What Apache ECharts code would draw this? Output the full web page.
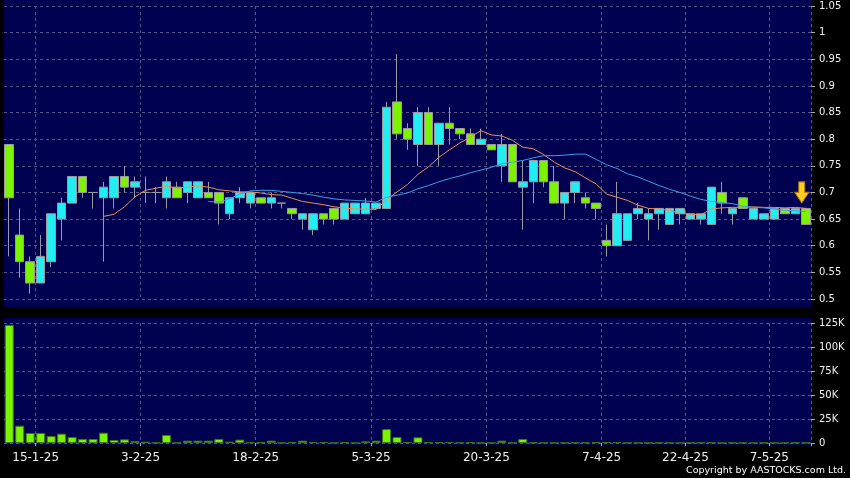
<!DOCTYPE html>
<html><head><meta charset="utf-8">
<script src="https://cdn.jsdelivr.net/npm/echarts@6/dist/echarts.min.js"></script>
<style>html,body{margin:0;padding:0;background:#000;}#c{width:850px;height:478px;}</style>
</head><body><div id="c"></div>
<script>
const dates = [
'10-1-25','13-1-25','14-1-25','15-1-25','16-1-25','17-1-25','20-1-25','21-1-25','22-1-25','23-1-25',
'24-1-25','27-1-25','28-1-25','3-2-25','4-2-25','5-2-25','6-2-25','7-2-25','10-2-25','11-2-25',
'12-2-25','13-2-25','14-2-25','17-2-25','18-2-25','19-2-25','20-2-25','21-2-25','24-2-25','25-2-25',
'26-2-25','27-2-25','28-2-25','3-3-25','4-3-25','5-3-25','6-3-25','7-3-25','10-3-25','11-3-25',
'12-3-25','13-3-25','14-3-25','17-3-25','18-3-25','19-3-25','20-3-25','21-3-25','24-3-25','25-3-25',
'26-3-25','27-3-25','28-3-25','31-3-25','1-4-25','2-4-25','3-4-25','7-4-25','8-4-25','9-4-25',
'10-4-25','11-4-25','14-4-25','15-4-25','16-4-25','22-4-25','23-4-25','24-4-25','25-4-25','28-4-25',
'29-4-25','30-4-25','2-5-25','7-5-25','8-5-25','9-5-25','12-5-25'];
const openP = [
0.79,0.62,0.57,0.53,0.57,0.65,0.68,0.73,0.70,0.69,
0.69,0.73,0.71,0.70,0.70,0.69,0.71,0.70,0.69,0.70,
0.70,0.66,0.69,0.68,0.69,0.68,0.68,0.67,0.65,0.63,
0.66,0.67,0.65,0.66,0.66,0.67,0.67,0.87,0.82,0.79,
0.85,0.79,0.83,0.82,0.81,0.79,0.79,0.75,0.79,0.71,
0.72,0.76,0.72,0.68,0.70,0.69,0.68,0.61,0.60,0.61,
0.66,0.65,0.66,0.64,0.66,0.65,0.65,0.64,0.70,0.66,
0.69,0.65,0.65,0.65,0.67,0.66,0.67];
const closeP = [
0.69,0.57,0.53,0.58,0.66,0.68,0.73,0.70,0.70,0.71,
0.73,0.71,0.72,0.70,0.70,0.72,0.69,0.72,0.72,0.69,
0.68,0.69,0.70,0.70,0.68,0.69,0.68,0.66,0.66,0.66,
0.65,0.65,0.68,0.68,0.68,0.68,0.86,0.81,0.80,0.85,
0.79,0.83,0.82,0.81,0.79,0.80,0.78,0.79,0.72,0.72,
0.76,0.72,0.68,0.70,0.72,0.68,0.67,0.60,0.66,0.66,
0.67,0.66,0.67,0.67,0.67,0.66,0.66,0.71,0.68,0.67,
0.67,0.67,0.66,0.67,0.66,0.67,0.64];
const lowP = [
0.58,0.54,0.51,0.53,0.56,0.61,0.68,0.69,0.67,0.57,
0.67,0.70,0.69,0.68,0.68,0.67,0.69,0.68,0.69,0.69,
0.64,0.65,0.68,0.67,0.68,0.67,0.67,0.65,0.63,0.62,
0.64,0.64,0.65,0.66,0.66,0.67,0.67,0.80,0.78,0.75,
0.79,0.75,0.79,0.80,0.79,0.79,0.78,0.72,0.72,0.63,
0.68,0.71,0.68,0.65,0.68,0.67,0.65,0.58,0.60,0.61,
0.65,0.61,0.63,0.64,0.64,0.65,0.64,0.64,0.66,0.64,
0.67,0.65,0.65,0.65,0.66,0.66,0.64];
const highP = [
0.79,0.67,0.58,0.62,0.66,0.69,0.73,0.73,0.70,0.72,
0.73,0.75,0.73,0.73,0.71,0.73,0.72,0.72,0.72,0.72,
0.70,0.69,0.71,0.70,0.69,0.70,0.68,0.67,0.66,0.66,
0.66,0.67,0.68,0.68,0.69,0.68,0.87,0.96,0.83,0.86,
0.86,0.83,0.86,0.82,0.82,0.82,0.79,0.81,0.79,0.76,
0.76,0.76,0.75,0.70,0.72,0.70,0.68,0.64,0.72,0.66,
0.68,0.67,0.67,0.67,0.67,0.66,0.66,0.71,0.72,0.67,
0.69,0.67,0.66,0.67,0.67,0.67,0.67];
const volumeK = [
123,18,10.4,10.4,7.3,9.7,6.2,4.2,4.2,10.7,
3.1,3.8,2.1,1.4,0.3,8.3,0.3,2.4,2.4,2.4,
4.2,1.4,3.5,0.7,0.7,2.4,0.2,1,2.4,1,
1,0.1,1,0.1,1.7,2.4,14.5,6.2,1,5.9,
1,1,1,0.3,1,0.2,0.2,2.4,0.3,4.2,
0.3,0.3,0.3,0.2,0.3,0.3,1,1,1,0.2,
0.3,0.2,0.3,0.2,0.2,0.2,0.3,0.5,0.2,0.3,
0.2,0.2,0.3,0.2,0.2,0.3,0.3];
// moving-average line values (orange from 10th bar, blue from 20th bar)
const ma10Start = 9;
const ma10Values = [
0.655,0.659,0.673,0.692,0.704,0.708,0.712,0.708,0.710,0.712,
0.710,0.705,0.703,0.701,0.701,0.699,0.696,0.695,0.689,0.683,
0.680,0.677,0.673,0.671,0.669,0.669,0.668,0.686,0.701,0.715,
0.734,0.748,0.766,0.780,0.793,0.804,0.816,0.808,0.806,0.798,
0.785,0.782,0.771,0.757,0.746,0.739,0.727,0.716,0.697,0.691,
0.685,0.676,0.670,0.669,0.666,0.661,0.659,0.658,0.669,0.671,
0.672,0.672,0.673,0.672,0.672,0.671,0.672,0.670];
const ma20Start = 19;
const ma20Values = [
0.683,0.682,0.688,0.697,0.703,0.704,0.704,0.702,0.700,0.698,
0.695,0.691,0.688,0.686,0.685,0.684,0.682,0.691,0.695,0.699,
0.707,0.713,0.720,0.726,0.731,0.737,0.742,0.747,0.754,0.757,
0.760,0.765,0.769,0.769,0.770,0.772,0.772,0.762,0.752,0.745,
0.735,0.729,0.721,0.713,0.706,0.700,0.693,0.687,0.683,0.681,
0.679,0.674,0.672,0.671,0.669,0.666,0.666,0.664];
const dateTickLabels = ['15-1-25','3-2-25','18-2-25','5-3-25','20-3-25','7-4-25','22-4-25','7-5-25'];
const priceAxis = {min:0.5, max:1.05, step:0.05};
const volAxis = {min:0, max:125, step:25};
const arrowAbove = 0.03;

const candleData = dates.map((d,i)=>[openP[i], closeP[i], lowP[i], highP[i]]);
const ma10 = new Array(ma10Start).fill(null).concat(ma10Values);
const ma20 = new Array(ma20Start).fill(null).concat(ma20Values);
const last = dates.length - 1;

const FONT = 'DejaVu Sans';
const NAVY = '#000050';
const GRIDC = '#55558a';
const isTick = (i, v) => dateTickLabels.indexOf(v) >= 0;

const chart = echarts.init(document.getElementById('c'), null, {renderer:'canvas'});
chart.setOption({
  animation:false,
  backgroundColor:'#000000',
  graphic:[
    {type:'rect', z:-10, shape:{x:4,y:0,width:807,height:307}, style:{fill:NAVY}},
    {type:'rect', z:-10, shape:{x:4,y:318,width:807,height:127}, style:{fill:NAVY}},
    {type:'text', z:10, x:846, y:471, style:{text:'Copyright by AASTOCKS.com Ltd.', fill:'#ffffff',
      font:'9.5px "DejaVu Sans"', textAlign:'right', textVerticalAlign:'middle'}}
  ],
  grid:[
    {left:4, width:807, top:6, height:293},
    {left:4, width:807, top:323, height:120}
  ],
  xAxis:[
    {type:'category', gridIndex:0, data:dates, boundaryGap:true,
     axisLine:{show:false}, axisTick:{show:false}, axisLabel:{show:false},
     splitLine:{show:true, interval:isTick, lineStyle:{color:GRIDC, type:[3,3], width:1}}},
    {type:'category', gridIndex:1, data:dates, boundaryGap:true, offset:3,
     axisLine:{show:false},
     axisTick:{show:true, interval:isTick, length:3, lineStyle:{color:'#aaaaaa'}},
     axisLabel:{show:true, interval:isTick, color:'#f0f0f0', fontFamily:FONT, fontSize:12, margin:6,
       padding:[0,10,0,0]},
     splitLine:{show:true, interval:isTick, lineStyle:{color:GRIDC, type:[3,3], width:1}}}
  ],
  yAxis:[
    {type:'value', gridIndex:0, position:'right', min:priceAxis.min, max:priceAxis.max, interval:priceAxis.step,
     axisLine:{show:false}, axisTick:{show:true, length:4, lineStyle:{color:'#aaaaaa'}},
     axisLabel:{color:'#f0f0f0', fontFamily:FONT, fontSize:10, margin:8,
       formatter:v=>String(+v.toFixed(2))},
     splitLine:{show:true, lineStyle:{color:GRIDC, type:[3,3], width:1}}},
    {type:'value', gridIndex:1, position:'right', min:volAxis.min, max:volAxis.max, interval:volAxis.step,
     axisLine:{show:false}, axisTick:{show:true, length:4, lineStyle:{color:'#aaaaaa'}},
     axisLabel:{color:'#f0f0f0', fontFamily:FONT, fontSize:10, margin:8,
       formatter:v=> v===0 ? '0' : (v + 'K')},
     splitLine:{show:true, lineStyle:{color:GRIDC, type:[3,3], width:1}}}
  ],
  series:[
    {type:'candlestick', xAxisIndex:0, yAxisIndex:0, data:candleData, barWidth:9, z:2,
     itemStyle:{color:'#22eef2', color0:'#7cf400', borderColor:'#9a9aa0', borderColor0:'#9a9aa0',
       borderColorDoji:'#9a9aa0', borderWidth:1},
     markPoint:{silent:true, animation:false,
       data:[{coord:[dates[last], highP[last] + arrowAbove],
         symbol:'path://M4,0 L10,0 L10,11 L14,11 L7,22 L0,11 L4,11 Z',
         symbolSize:[14,21], symbolOffset:[-4,0],
         itemStyle:{color:'#ffcc22', borderColor:'#b87a00', borderWidth:1},
         label:{show:false}}]}},
    {type:'line', xAxisIndex:0, yAxisIndex:0, data:ma10, showSymbol:false, z:5,
     lineStyle:{color:'#f08c58', width:1}},
    {type:'line', xAxisIndex:0, yAxisIndex:0, data:ma20, showSymbol:false, z:5,
     lineStyle:{color:'#3aa0e4', width:1}},
    {type:'bar', xAxisIndex:1, yAxisIndex:1, data:volumeK, barWidth:9,
     itemStyle:{color:'#7cf400', borderColor:'#3a7a00', borderWidth:1}}
  ]
});
</script></body></html>
